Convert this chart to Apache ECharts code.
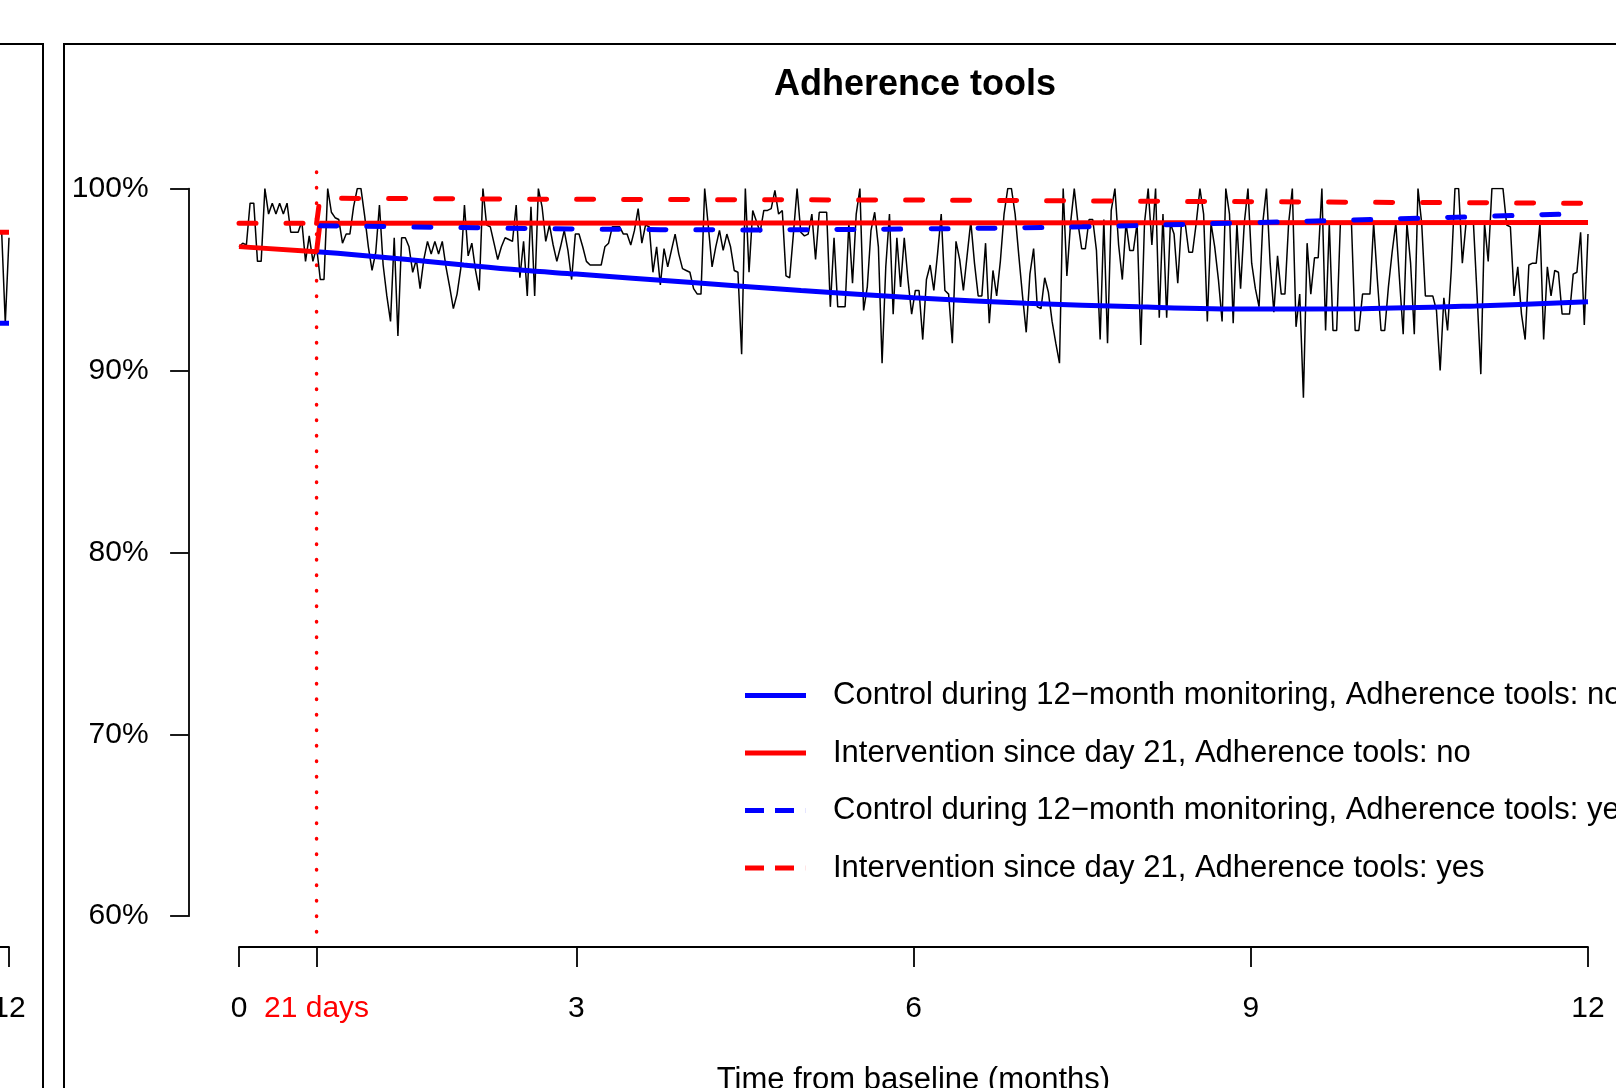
<!DOCTYPE html>
<html><head><meta charset="utf-8">
<script src="https://cdn.jsdelivr.net/npm/echarts@6/dist/echarts.min.js"></script>
<style>html,body{margin:0;padding:0;background:#fff;}#c{width:1616px;height:1088px;}</style>
</head><body><div id="c"></div>
<script>
const FONT = '"Liberation Sans", Arial, Helvetica, sans-serif';
const DAY21 = 0.69;               // 21 days in months
const JUMP_END = 0.72;
const xTickValues = [0, DAY21, 3, 6, 9, 12];
const yMin = 60, yMax = 100, yStep = 10;

// daily observed adherence (%), day 0 .. day 365
const dailyAdherence = [
 96.8, 97.0, 96.9, 99.2, 99.2, 96.0, 96.0, 100, 98.6, 99.2,
 98.6, 99.2, 98.6, 99.2, 97.6, 97.6, 97.6, 98.2, 96.0, 97.4,
 96.0, 96.8, 95.0, 95.0, 100, 98.7, 98.4, 98.3, 97.0, 97.5,
 97.5, 99.0, 100, 100, 98.5, 96.8, 95.5, 96.5, 99.1, 95.8,
 94.1, 92.7, 97.3, 91.9, 97.3, 97.3, 96.8, 95.4, 96.1, 94.5,
 96.1, 97.1, 96.4, 97.1, 96.4, 97.1, 95.7, 94.6, 93.4, 94.2,
 95.6, 99.1, 96.3, 97.0, 95.5, 94.4, 100, 98.0, 97.9, 97.0,
 96.1, 96.8, 97.3, 97.2, 97.1, 99.1, 95.1, 97.1, 94.1, 99.0,
 94.1, 100, 99.0, 97.1, 98.0, 96.9, 96.0, 96.8, 97.7, 96.6,
 95.0, 97.5, 97.5, 96.8, 96.0, 95.8, 95.8, 95.8, 95.8, 96.8,
 97.0, 97.9, 97.9, 97.9, 97.5, 97.5, 96.9, 97.7, 98.9, 97.0,
 98.0, 97.9, 95.4, 96.8, 94.7, 96.7, 95.7, 96.6, 97.5, 96.4,
 95.6, 95.5, 95.4, 94.5, 94.2, 94.2, 100, 97.9, 95.7, 96.8,
 97.7, 96.6, 97.5, 96.8, 95.5, 95.4, 90.9, 100, 95.4, 98.8,
 98.2, 97.6, 98.8, 98.8, 98.9, 99.9, 98.6, 98.8, 95.2, 95.1,
 97.5, 100, 97.6, 97.4, 97.5, 98.6, 96.1, 98.7, 98.7, 98.7,
 93.5, 97.3, 93.5, 93.5, 93.5, 98.1, 94.8, 98.6, 100, 93.3,
 94.6, 97.7, 98.7, 96.8, 90.4, 95.7, 98.6, 93.1, 97.3, 94.6,
 97.3, 95.0, 93.1, 94.4, 94.4, 91.7, 95.0, 95.8, 94.4, 96.4,
 98.6, 94.4, 94.2, 91.5, 97.1, 96.1, 94.4, 96.3, 98.2, 95.9,
 94.1, 94.1, 97.0, 92.6, 95.5, 94.1, 96.0, 98.6, 100, 100,
 98.6, 96.3, 94.1, 92.1, 95.3, 96.7, 93.5, 93.4, 95.1, 94.3,
 92.7, 91.5, 90.4, 100, 95.2, 98.1, 100, 98.1, 96.7, 96.7,
 98.3, 98.3, 96.6, 91.7, 98.3, 91.5, 98.8, 100, 96.9, 95.0,
 98.1, 96.6, 96.6, 98.1, 91.4, 98.1, 100, 96.9, 100, 92.9,
 98.6, 92.9, 98.1, 97.5, 94.8, 98.1, 98.1, 96.5, 96.5, 98.1,
 100, 98.6, 92.7, 98.1, 96.8, 95.0, 92.7, 100, 98.6, 92.6,
 98.1, 94.5, 98.1, 100, 95.9, 94.5, 93.5, 98.1, 100, 95.9,
 93.2, 96.3, 94.2, 94.2, 98.1, 100, 92.4, 94.2, 88.5, 97.0,
 94.2, 96.2, 96.2, 100, 92.2, 98.1, 92.2, 92.2, 98.1, 98.1,
 98.1, 98.1, 92.2, 92.2, 94.2, 94.2, 94.2, 98.1, 95.0, 92.2,
 92.2, 94.6, 96.5, 98.1, 95.0, 92.0, 98.1, 95.9, 92.0, 100,
 98.1, 94.1, 94.1, 94.1, 93.3, 90.0, 94.0, 92.2, 95.5, 100,
 100, 95.9, 98.1, 98.1, 98.1, 94.1, 89.8, 98.1, 96.0, 100,
 100, 100, 100, 98.0, 97.9, 94.1, 95.7, 93.1, 91.7, 95.8,
 95.9, 95.9, 98.1, 91.7, 95.7, 94.1, 95.5, 95.4, 93.1, 93.1,
 93.1, 95.3, 95.4, 97.6, 92.5, 97.5
];

// fitted lines (months, %)
const controlNoMonths = [DAY21, 1, 1.5, 2, 2.5, 3, 4, 5, 6, 7, 8, 9, 10, 11, 12];
const controlNoValues = [96.53, 96.38, 96.1, 95.8, 95.52, 95.3, 94.85, 94.4, 94.0, 93.7, 93.5, 93.38, 93.4, 93.55, 93.78];
const interventionNoMonths = [0, DAY21, JUMP_END, 12];
const interventionNoValues = [96.81, 96.53, 98.09, 98.13];
const controlYesMonths = [JUMP_END, 3, 4.5, 6, 7.5, 9, 10.5, 12];
const controlYesValues = [97.96, 97.78, 97.73, 97.78, 97.9, 98.13, 98.37, 98.64];
const interventionYesPreMonths = [0, DAY21];
const interventionYesPreValues = [98.09, 98.09];
const interventionYesPostMonths = [DAY21, JUMP_END, 3, 6, 9, 12];
const interventionYesPostValues = [98.09, 99.47, 99.41, 99.37, 99.28, 99.19];

// right edge of the neighbouring (left) panel
const leftPanelMonths = [11.86, 11.90, 11.935, 11.967, 12];
const leftPanelObserved = [93.0, 97.6, 97.6, 92.6, 97.3];
const leftPanelIntervention = [97.6, 97.6];
const leftPanelControl = [92.6, 92.6];
const leftPanelLineMonths = [11.5, 12];

const names = [
  'Control during 12\u2212month monitoring, Adherence tools: no',
  'Intervention since day 21, Adherence tools: no',
  'Control during 12\u2212month monitoring, Adherence tools: yes',
  'Intervention since day 21, Adherence tools: yes'
];

const zip = (xs, ys) => xs.map((x, i) => [x, ys[i]]);
const BLUE = '#0000FF', RED = '#FF0000';
const W = 5;

const chart = echarts.init(document.getElementById('c'), null, {renderer: 'canvas'});
const solidIcon = 'path://M0,0H61V5H0Z';
const dashIcon = 'path://M0,0H19V5H0ZM30,0H49V5H30ZM60.9,0H61V5H60.9Z';

chart.setOption({
  animation: false,
  backgroundColor: '#fff',
  title: {
    text: 'Adherence tools', left: 915, top: 67, textAlign: 'center', padding: 0,
    textStyle: {fontFamily: FONT, fontSize: 36, fontWeight: 'bold', color: '#000', lineHeight: 36}
  },
  grid: [
    {left: 239, right: 28, top: 188.6, bottom: 171.8, outerBoundsMode: 'none', containLabel: false},
    {left: 0, width: 9, top: 188.6, bottom: 171.8, outerBoundsMode: 'none', containLabel: false}
  ],
  xAxis: [
    {
      type: 'value', gridIndex: 0, min: 0, max: 12, offset: 30.9,
      axisLine: {show: true, onZero: false, lineStyle: {color: '#000', width: 1.8}},
      axisTick: {show: true, length: 20, customValues: xTickValues, lineStyle: {color: '#000', width: 1.8}},
      axisLabel: {
        customValues: xTickValues, margin: 47, color: '#000', fontFamily: FONT, fontSize: 30,
        formatter: v => Math.abs(v - DAY21) < 1e-6 ? '{r|21 days}' : String(v),
        rich: {r: {color: RED, fontFamily: FONT, fontSize: 30}}
      },
      splitLine: {show: false},
      name: 'Time from baseline (months)', nameLocation: 'middle', nameGap: 118,
      nameTextStyle: {fontFamily: FONT, fontSize: 31, color: '#000'}
    },
    {
      type: 'value', gridIndex: 1, min: 11.92, max: 12, offset: 30.9,
      axisLine: {show: true, onZero: false, lineStyle: {color: '#000', width: 1.8}},
      axisTick: {show: true, length: 20, customValues: [12], lineStyle: {color: '#000', width: 1.8}},
      axisLabel: {customValues: [12], margin: 47, color: '#000', fontFamily: FONT, fontSize: 30},
      splitLine: {show: false}
    }
  ],
  yAxis: [
    {
      type: 'value', gridIndex: 0, min: yMin, max: yMax, interval: yStep, offset: 50.4,
      axisLine: {show: true, onZero: false, lineStyle: {color: '#000', width: 1.8}},
      axisTick: {show: true, length: 18.5, lineStyle: {color: '#000', width: 1.8}},
      axisLabel: {margin: 40, color: '#000', fontFamily: FONT, fontSize: 30, formatter: '{value}%'},
      splitLine: {show: false}
    },
    {type: 'value', gridIndex: 1, min: yMin, max: yMax, show: false}
  ],
  legend: {
    orient: 'vertical', left: 745, top: 680, padding: 0, itemGap: 26.5,
    itemWidth: 61, itemHeight: 5, selectedMode: false,
    textStyle: {fontFamily: FONT, fontSize: 31, color: '#000', lineHeight: 31, padding: [0, 0, 0, 22]},
    data: [
      {name: names[0], icon: solidIcon},
      {name: names[1], icon: solidIcon},
      {name: names[2], icon: dashIcon},
      {name: names[3], icon: dashIcon}
    ]
  },
  series: [
    {
      name: 'Observed daily adherence', type: 'line', xAxisIndex: 0, yAxisIndex: 0,
      data: dailyAdherence.map((v, d) => [d * 12 / 365, v]),
      symbol: 'none', lineStyle: {color: '#000', width: 1.5}, itemStyle: {color: '#000'}, z: 1
    },
    {
      name: names[0], type: 'line', data: zip(controlNoMonths, controlNoValues), smooth: 0.35,
      symbol: 'none', color: BLUE, lineStyle: {color: BLUE, width: W}, z: 2
    },
    {
      name: names[1], type: 'line', data: zip(interventionNoMonths, interventionNoValues),
      symbol: 'none', color: RED, lineStyle: {color: RED, width: W}, z: 3
    },
    {
      name: names[2], type: 'line', data: zip(controlYesMonths, controlYesValues), smooth: 0.35,
      symbol: 'none', color: BLUE, lineStyle: {color: BLUE, width: W, type: [17, 30], cap: 'round'}, z: 4
    },
    {
      name: names[3], type: 'line', data: zip(interventionYesPreMonths, interventionYesPreValues),
      symbol: 'none', color: RED, lineStyle: {color: RED, width: W, type: [17, 30], cap: 'round'}, z: 5
    },
    {
      name: names[3], type: 'line', data: zip(interventionYesPostMonths, interventionYesPostValues),
      symbol: 'none', color: RED, lineStyle: {color: RED, width: W, type: [17, 30], cap: 'round'}, z: 5
    },
    {
      name: 'Start of intervention (day 21)', type: 'line', clip: false,
      data: [[DAY21, 100.91], [DAY21, 58.31]],
      symbol: 'none', color: RED, lineStyle: {color: RED, width: 3.5, type: [0.5, 15], cap: 'round'}, z: 6
    },
    {
      name: 'Left panel observed', type: 'line', xAxisIndex: 1, yAxisIndex: 1,
      data: zip(leftPanelMonths, leftPanelObserved),
      symbol: 'none', lineStyle: {color: '#000', width: 1.5}, z: 1
    },
    {
      name: 'Left panel control', type: 'line', xAxisIndex: 1, yAxisIndex: 1,
      data: zip(leftPanelLineMonths, leftPanelControl),
      symbol: 'none', color: BLUE, lineStyle: {color: BLUE, width: W}, z: 2
    },
    {
      name: 'Left panel intervention', type: 'line', xAxisIndex: 1, yAxisIndex: 1,
      data: zip(leftPanelLineMonths, leftPanelIntervention),
      symbol: 'none', color: RED, lineStyle: {color: RED, width: W}, z: 3
    }
  ],
  graphic: [
    {type: 'rect', silent: true, z: 0, shape: {x: -20, y: 44, width: 63, height: 1200},
     style: {fill: 'none', stroke: '#000', lineWidth: 2}},
    {type: 'rect', silent: true, z: 0, shape: {x: 64, y: 44, width: 1700, height: 1200},
     style: {fill: 'none', stroke: '#000', lineWidth: 2}}
  ]
});
</script></body></html>
